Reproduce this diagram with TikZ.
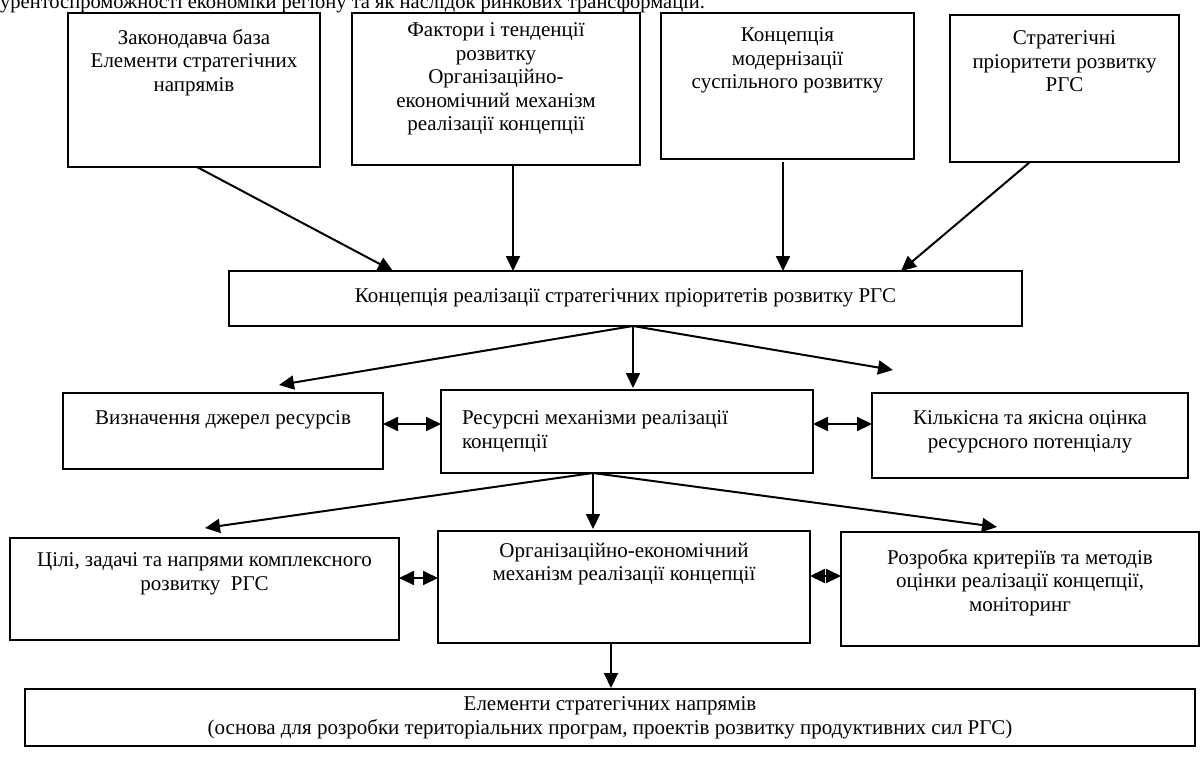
\documentclass[tikz,border=0pt]{standalone}
\usepackage{fontspec}
\setmainfont{Liberation Serif}
\usetikzlibrary{arrows.meta}
\newcommand{\bxt}[4]{\parbox[c][#2pt][t]{#1pt}{\centering\vspace*{#3pt}#4\par}}
\begin{document}
\begin{tikzpicture}[x=1pt,y=-1pt,
  bx/.style={draw, line width=2pt, inner sep=0pt, outer sep=0pt, anchor=north west, font=\fontsize{21}{23.5}\selectfont},
  arr/.style={line width=2pt, -{Triangle[length=15pt,width=14pt]}},
  darr/.style={line width=2pt, {Triangle[length=15pt,width=14pt]}-{Triangle[length=15pt,width=14pt]}}]
\useasboundingbox (0,0) rectangle (1200,756);
\node[anchor=base west, inner sep=0pt, font=\fontsize{20.5}{24}\selectfont] (ttl) at (0,8.5) {урентоспроможності економіки регіону та як наслідок ринкових трансформацій.};
% top row
\node[bx] (A) at (68,13) {\bxt{252}{154}{16}{Законодавча база\\Елементи стратегічних\\напрямів}};
\node[bx] (B) at (352,13) {\bxt{288}{152}{10}{Фактори і тенденції\\розвитку\\Організаційно-\\економічний механізм\\реалізації концепції}};
\node[bx] (C) at (661,13) {\bxt{253}{146}{15}{Концепція\\модернізації\\суспільного розвитку}};
\node[bx] (D) at (950,15) {\bxt{229}{147}{16}{Стратегічні\\пріоритети розвитку\\РГС}};
% middle
\node[bx] (E) at (229,271) {\bxt{793}{55}{18}{Концепція реалізації стратегічних пріоритетів розвитку РГС}};
\node[bx] (F) at (63,393) {\bxt{320}{76}{18}{Визначення джерел ресурсів}};
\node[bx] (G) at (441,390) {\parbox[c][83pt][t]{372pt}{\raggedright\vspace*{21pt}\hspace*{21pt}Ресурсні механізми реалізації\\\hspace*{21pt}концепції\par}};
\node[bx] (H) at (872,393) {\bxt{316}{85}{18}{Кількісна та якісна оцінка\\ресурсного потенціалу}};
% lower
\node[bx] (I) at (10,538) {\bxt{389}{102}{15}{Цілі, задачі та напрями комплексного\\розвитку\ \ РГС}};
\node[bx] (J) at (438,531) {\bxt{372}{112}{12}{Організаційно-економічний\\механізм реалізації концепції}};
\node[bx] (K) at (841,532) {\bxt{358}{114}{17}{Розробка критеріїв та методів\\оцінки реалізації концепції,\\моніторинг}};
\node[bx] (L) at (25,689) {\bxt{1170}{57}{8}{Елементи стратегічних напрямів\\(основа для розробки територіальних програм, проектів розвитку продуктивних сил РГС)}};
% coordinates
\coordinate (a1) at (197,167);
\coordinate (a2) at (393,271);
\coordinate (b1) at (513,165);
\coordinate (b2) at (513,271);
\coordinate (c1) at (783,162);
\coordinate (c2) at (783,271);
\coordinate (d1) at (1030,162);
\coordinate (d2) at (901,271);
\coordinate (e0) at (633,326);
\coordinate (ef) at (279,385);
\coordinate (eg) at (633,388);
\coordinate (eh) at (893,370);
\coordinate (g0) at (593,473);
\coordinate (gi) at (205,528);
\coordinate (gj) at (593,529);
\coordinate (gk) at (997,527);
\coordinate (j1) at (611,643);
\coordinate (j2) at (611,688);
% connectors
\draw[arr] (a1) -- (a2);
\draw[arr] (b1) -- (b2);
\draw[arr] (c1) -- (c2);
\draw[arr] (d1) -- (d2);
\draw[arr] (e0) -- (ef);
\draw[arr] (e0) -- (eg);
\draw[arr] (e0) -- (eh);
\draw[arr] (g0) -- (gi);
\draw[arr] (g0) -- (gj);
\draw[arr] (g0) -- (gk);
\draw[arr] (j1) -- (j2);
\draw[darr] (F.east |- 0,424) -- (G.west |- 0,424);
\draw[darr] (G.east |- 0,424) -- (H.west |- 0,424);
\draw[darr] (I.east |- 0,578) -- (J.west |- 0,578);
\draw[darr] (J.east |- 0,576) -- (K.west |- 0,576);
\end{tikzpicture}
\end{document}
